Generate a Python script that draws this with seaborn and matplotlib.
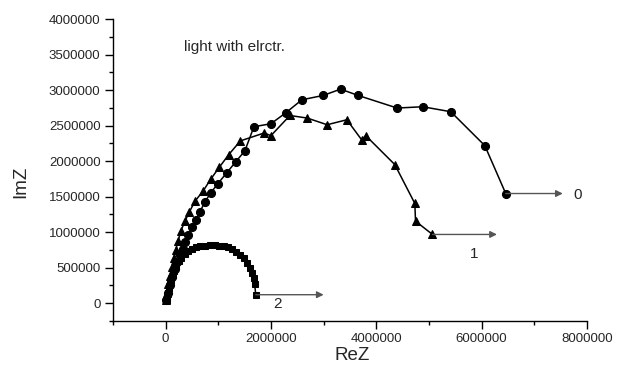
import matplotlib
matplotlib.use("Agg")
import matplotlib.pyplot as plt
import matplotlib.ticker as mticker
import seaborn as sns
import pandas as pd

# ---- data (values in units of 1e6) ----
s0_x = [0.015, 0.04, 0.075, 0.12, 0.17, 0.22, 0.275, 0.33, 0.375, 0.423, 0.50, 0.575,
        0.651, 0.746, 0.86, 0.993, 1.163, 1.334, 1.505, 1.676, 1.998, 2.283, 2.586,
        2.99, 3.321, 3.655, 4.395, 4.882, 5.414, 6.06, 6.457]
s0_y = [0.05, 0.15, 0.26, 0.37, 0.48, 0.58, 0.68, 0.77, 0.86, 0.954, 1.066, 1.169,
        1.287, 1.427, 1.558, 1.684, 1.839, 1.993, 2.147, 2.484, 2.526, 2.681, 2.863,
        2.924, 3.013, 2.924, 2.747, 2.765, 2.695, 2.218, 1.544]

s1_x = [0.01, 0.025, 0.05, 0.08, 0.115, 0.15, 0.19, 0.233, 0.29, 0.366, 0.448, 0.556,
        0.708, 0.856, 1.021, 1.197, 1.419, 1.871, 1.998, 2.359, 2.687, 3.066, 3.44,
        3.719, 3.80, 4.351, 4.731, 4.744, 5.066]
s1_y = [0.05, 0.15, 0.27, 0.39, 0.51, 0.63, 0.75, 0.87, 1.02, 1.155, 1.281, 1.436,
        1.576, 1.746, 1.916, 2.091, 2.285, 2.396, 2.358, 2.642, 2.606, 2.512, 2.582,
        2.302, 2.358, 1.951, 1.404, 1.155, 0.968]

s2_x = [0.02, 0.03, 0.04, 0.06, 0.08, 0.10, 0.13, 0.16, 0.20, 0.25, 0.30, 0.36, 0.43,
        0.50, 0.58, 0.66, 0.75, 0.84, 0.93, 1.02, 1.10, 1.18, 1.26, 1.34, 1.42, 1.49,
        1.55, 1.60, 1.64, 1.67, 1.69, 1.71]
s2_y = [0.05, 0.10, 0.15, 0.21, 0.27, 0.33, 0.40, 0.46, 0.53, 0.59, 0.64, 0.69, 0.73,
        0.76, 0.785, 0.80, 0.81, 0.815, 0.815, 0.81, 0.80, 0.785, 0.76, 0.725, 0.68,
        0.63, 0.57, 0.50, 0.43, 0.35, 0.27, 0.12]

series_names = ["0", "1", "2"]
arrow_end_x = [7.54, 6.29, 3.0]
label_xy = [(7.83, 1.52), (5.85, 0.69), (2.125, -0.014)]
note_text = "light with elrctr."
x_ticks = [0, 2000000, 4000000, 6000000, 8000000]
y_ticks = [0, 500000, 1000000, 1500000, 2000000, 2500000, 3000000, 3500000, 4000000]

SCALE = 1e6
frames = []
for name, xs, ys in zip(series_names, [s0_x, s1_x, s2_x], [s0_y, s1_y, s2_y]):
    frames.append(pd.DataFrame({"ReZ": [v * SCALE for v in xs],
                                "ImZ": [v * SCALE for v in ys],
                                "series": name}))

sns.set_style("ticks")
plt.rcParams["font.family"] = ["Liberation Sans", "DejaVu Sans"]

fig = plt.figure(figsize=(6.3, 3.76), dpi=100)
ax = fig.add_axes([113 / 630, 1 - 321 / 376, (587 - 113) / 630, (321 - 19) / 376])

styles = [("o", 5.8), ("^", 6.4), ("s", 5.0)]
for df, (mk, ms) in zip(frames, styles):
    sns.lineplot(data=df, x="ReZ", y="ImZ", sort=False, estimator=None, ax=ax,
                 color="black", lw=1.1, marker=mk, markersize=ms,
                 markeredgecolor="black", markerfacecolor="black", legend=False)

for df, ex, (lx, ly), name in zip(frames, arrow_end_x, label_xy, series_names):
    x0 = df["ReZ"].iloc[-1]
    y0 = df["ImZ"].iloc[-1]
    ax.annotate("", xy=(ex * SCALE, y0), xytext=(x0, y0),
                arrowprops=dict(arrowstyle="-|>", color="#555555", lw=1.0,
                                mutation_scale=10, shrinkA=0, shrinkB=0))
    ax.text(lx * SCALE, ly * SCALE, name, ha="center", va="center", fontsize=11)

ax.text(1.315 * SCALE, 3.607 * SCALE, note_text, ha="center", va="center", fontsize=11)

ax.set_xlim(-1000000, 8000000)
ax.set_ylim(-250000, 4000000)
ax.set_xticks(x_ticks)
ax.set_yticks(y_ticks)
ax.xaxis.set_minor_locator(mticker.MultipleLocator(1000000))
ax.yaxis.set_minor_locator(mticker.MultipleLocator(250000))
fmt = mticker.FuncFormatter(lambda v, p: "%d" % int(round(v)))
ax.xaxis.set_major_formatter(fmt)
ax.yaxis.set_major_formatter(fmt)
ax.tick_params(axis="both", which="major", direction="out", length=6, width=1,
               labelsize=9.5, color="black", pad=3)
ax.tick_params(axis="both", which="minor", direction="out", length=3, width=1,
               color="black")
for s in ["top", "right"]:
    ax.spines[s].set_visible(False)
for s in ["left", "bottom"]:
    ax.spines[s].set_color("black")
    ax.spines[s].set_linewidth(1.0)

ax.set_xlabel("ReZ", fontsize=13.5)
ax.set_ylabel("ImZ", fontsize=13.5)
ax.xaxis.set_label_coords(0.504, -0.086)
ax.yaxis.set_label_coords(-0.177, 0.46)

fig.savefig("out.png", dpi=100)
